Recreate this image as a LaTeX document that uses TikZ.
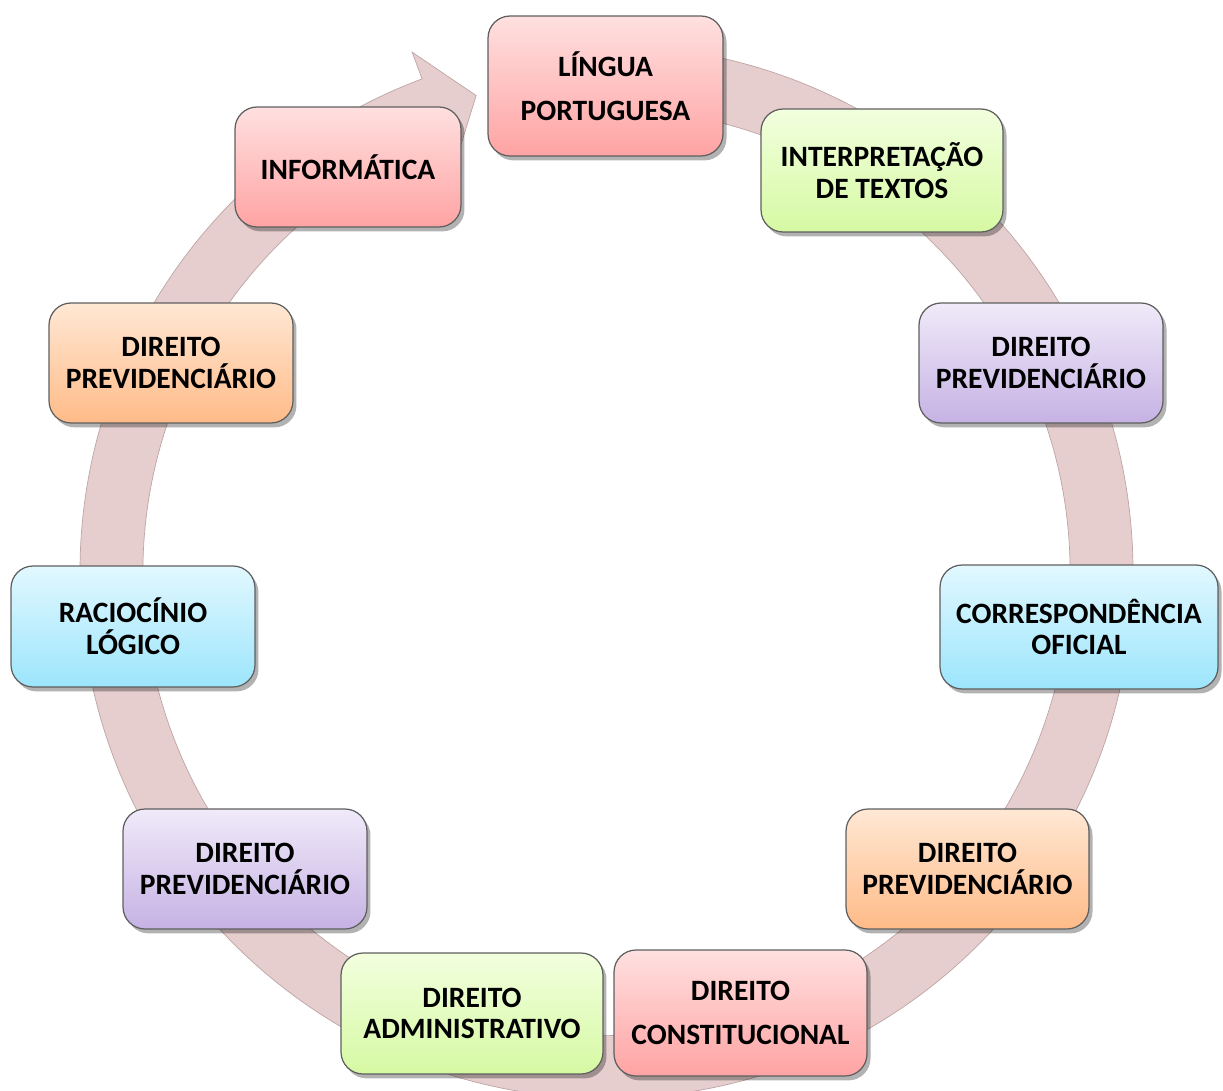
\documentclass[tikz,border=0pt]{standalone}
\usepackage{fontspec}
\setmainfont{Carlito}
\usetikzlibrary{shadows}
\definecolor{ringfill}{RGB}{230,206,206}
\definecolor{ringedge}{RGB}{190,165,165}
\definecolor{redtop}{RGB}{255,224,224}
\definecolor{redbot}{RGB}{255,163,163}
\definecolor{greentop}{RGB}{242,255,222}
\definecolor{greenbot}{RGB}{214,249,163}
\definecolor{purpletop}{RGB}{240,234,249}
\definecolor{purplebot}{RGB}{198,178,228}
\definecolor{cyantop}{RGB}{226,248,255}
\definecolor{cyanbot}{RGB}{156,229,252}
\definecolor{orangetop}{RGB}{255,232,212}
\definecolor{orangebot}{RGB}{255,187,136}
\definecolor{boxedge}{RGB}{95,95,95}
\tikzset{
  topic/.style={draw=boxedge, line width=0.7pt, rounded corners=0.44cm,
    align=center, inner sep=0pt,
    font=\fontsize{16.8}{18}\selectfont\bfseries,
    drop shadow={shadow xshift=2pt, shadow yshift=-2.5pt, opacity=0.3, fill=black}},
  widelines/.style={font=\fontsize{16.8}{25}\selectfont\bfseries},
  redbox/.style={topic, top color=redtop, bottom color=redbot},
  greenbox/.style={topic, top color=greentop, bottom color=greenbot},
  purplebox/.style={topic, top color=purpletop, bottom color=purplebot},
  cyanbox/.style={topic, top color=cyantop, bottom color=cyanbot},
  orangebox/.style={topic, top color=orangetop, bottom color=orangebot},
  ring/.style={fill=ringfill, draw=ringedge, line width=0.4pt}
}
\begin{document}
\begin{tikzpicture}[x=0.02cm, y=0.02cm]
\useasboundingbox (0,0) rectangle (1223,1090);
\coordinate (C) at (606.5,518);
% circular arrow
\path[ring] ([shift={(C)}]93:526.5) arc[start angle=93, end angle=-249.5, radius=526.5]
  -- ([shift={(C)}]110.5:555) -- ([shift={(C)}]105.3:494) -- ([shift={(C)}]110.5:434)
  -- ([shift={(C)}]110.5:463.5) arc[start angle=-249.5, end angle=93, radius=463.5] -- cycle;
% boxes
\node[redbox, widelines, minimum width=4.70cm, minimum height=2.80cm] (lp) at (605.5,1004) {LÍNGUA\\PORTUGUESA};
\node[greenbox, minimum width=4.84cm, minimum height=2.46cm] (it) at (882,919.5) {INTERPRETAÇÃO\\DE TEXTOS};
\node[purplebox, minimum width=4.88cm, minimum height=2.40cm] (dp1) at (1041,727) {DIREITO\\PREVIDENCIÁRIO};
\node[cyanbox, minimum width=5.56cm, minimum height=2.48cm] (co) at (1079,463) {CORRESPONDÊNCIA\\OFICIAL};
\node[orangebox, minimum width=4.86cm, minimum height=2.40cm] (dp2) at (967.5,221) {DIREITO\\PREVIDENCIÁRIO};
\node[redbox, widelines, minimum width=5.06cm, minimum height=2.52cm] (dc) at (740.5,77) {DIREITO\\CONSTITUCIONAL};
\node[greenbox, minimum width=5.24cm, minimum height=2.42cm] (da) at (472,76.5) {DIREITO\\ADMINISTRATIVO};
\node[purplebox, minimum width=4.88cm, minimum height=2.40cm] (dp3) at (245,221) {DIREITO\\PREVIDENCIÁRIO};
\node[cyanbox, minimum width=4.88cm, minimum height=2.42cm] (rl) at (133,463.5) {RACIOCÍNIO\\LÓGICO};
\node[orangebox, minimum width=4.88cm, minimum height=2.40cm] (dp4) at (171,727) {DIREITO\\PREVIDENCIÁRIO};
\node[redbox, minimum width=4.52cm, minimum height=2.40cm] (inf) at (348,923) {INFORMÁTICA};
\end{tikzpicture}
\end{document}
